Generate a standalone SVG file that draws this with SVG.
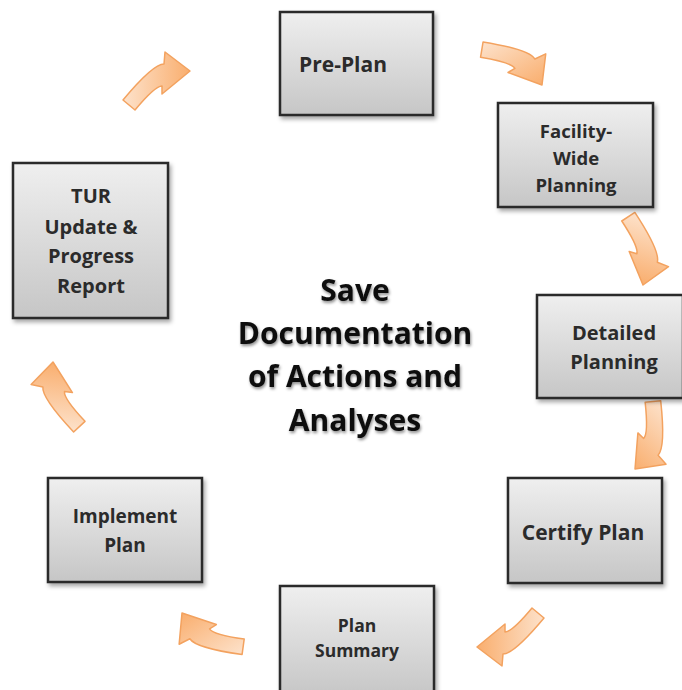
<svg xmlns="http://www.w3.org/2000/svg" width="682" height="690" viewBox="0 0 682 690">
  <defs>
    <linearGradient id="boxGrad" x1="0" y1="0" x2="0" y2="1">
      <stop offset="0" stop-color="#efefef"/>
      <stop offset="1" stop-color="#c6c6c6"/>
    </linearGradient>
    <linearGradient id="arrowGrad" x1="0" y1="0" x2="1" y2="0">
      <stop offset="0" stop-color="#fde2cb"/>
      <stop offset="1" stop-color="#f9ae6e"/>
    </linearGradient>
    <filter id="shadow" x="-10%" y="-10%" width="125%" height="125%">
      <feDropShadow dx="2" dy="3" stdDeviation="2" flood-color="#000" flood-opacity="0.35"/>
    </filter>
    <filter id="textShadow" x="-10%" y="-20%" width="120%" height="150%">
      <feDropShadow dx="1" dy="2" stdDeviation="1.6" flood-color="#000" flood-opacity="0.45"/>
    </filter>
    <path id="curvedArrow" d="M -67,29 Q -37,-7 -26,-7 L -25,-19 L 0,0 L -28,23 L -28,15 Q -35,15 -55,39 Z"/>
  </defs>
  <style>
    .box { fill: url(#boxGrad); stroke: #2a2a2a; stroke-width: 2.5; filter: url(#shadow); }
    .lbl { font-family: "Open Sans", "Liberation Sans", sans-serif; font-weight: 700; fill: #2b2b2b; text-anchor: middle; }
    .center { font-family: "Open Sans", "Liberation Sans", sans-serif; font-weight: 700; fill: #111; text-anchor: middle; font-size: 30px; filter: url(#textShadow); }
    .arrow { fill: url(#arrowGrad); stroke: #f3a25f; stroke-width: 1.5; stroke-linejoin: round; }
  </style>
  <rect width="682" height="690" fill="#ffffff"/>

  <g id="connectors">
    <use href="#curvedArrow" class="arrow" transform="translate(190,71)"/>
    <use href="#curvedArrow" class="arrow" transform="translate(542,85) rotate(59.6)"/>
    <use href="#curvedArrow" class="arrow" transform="translate(643,285) rotate(107)"/>
    <use href="#curvedArrow" class="arrow" transform="translate(635,469) rotate(134)"/>
    <use href="#curvedArrow" class="arrow" transform="translate(477,647) rotate(180)"/>
    <use href="#curvedArrow" class="arrow" transform="translate(182,613) rotate(238)"/>
    <use href="#curvedArrow" class="arrow" transform="translate(53,362) rotate(277)"/>
  </g>

  <g id="pre-plan">
    <rect class="box" x="280" y="12" width="153" height="103"/>
    <text class="lbl" x="343" y="72" font-size="21">Pre-Plan</text>
  </g>

  <g id="facility-wide-planning">
    <rect class="box" x="498" y="103" width="155" height="104"/>
    <text class="lbl" font-size="18.5"><tspan x="576" y="138">Facility-</tspan><tspan x="576" y="165">Wide</tspan><tspan x="576" y="192">Planning</tspan></text>
  </g>

  <g id="detailed-planning">
    <rect class="box" x="537" y="295" width="146" height="103"/>
    <text class="lbl" font-size="20"><tspan x="614" y="340">Detailed</tspan><tspan x="614" y="369">Planning</tspan></text>
  </g>

  <g id="certify-plan">
    <rect class="box" x="508" y="478" width="154" height="105"/>
    <text class="lbl" x="583" y="540" font-size="21">Certify Plan</text>
  </g>

  <g id="plan-summary">
    <rect class="box" x="280" y="586" width="154" height="110"/>
    <text class="lbl" font-size="17.5"><tspan x="357" y="632">Plan</tspan><tspan x="357" y="657">Summary</tspan></text>
  </g>

  <g id="implement-plan">
    <rect class="box" x="48" y="478" width="154" height="104"/>
    <text class="lbl" font-size="19"><tspan x="125" y="523">Implement</tspan><tspan x="125" y="552">Plan</tspan></text>
  </g>

  <g id="tur-update">
    <rect class="box" x="13" y="163" width="155" height="155"/>
    <text class="lbl" font-size="20"><tspan x="91" y="203">TUR</tspan><tspan x="91" y="234">Update &amp;</tspan><tspan x="91" y="263">Progress</tspan><tspan x="91" y="293">Report</tspan></text>
  </g>

  <g id="center-label">
    <text class="center"><tspan x="355" y="301">Save</tspan><tspan x="355" y="344">Documentation</tspan><tspan x="355" y="387">of Actions and</tspan><tspan x="355" y="431">Analyses</tspan></text>
  </g>
</svg>
